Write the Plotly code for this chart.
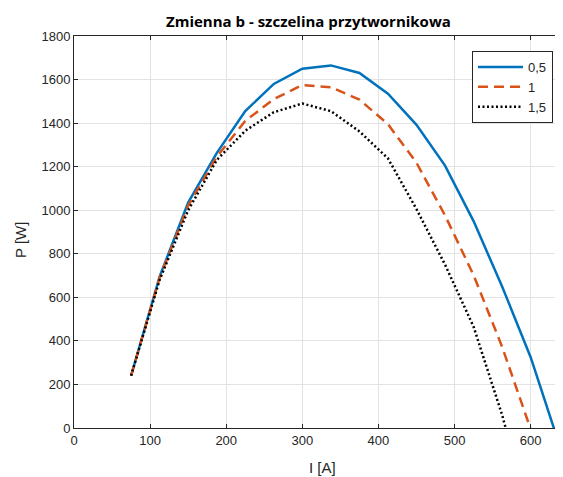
import plotly.graph_objects as go

current_A = [75, 112.5, 150, 187.5, 225, 262.5, 300, 337.5, 375, 412.5, 450, 487.5, 525, 562.5, 600, 637.5]
power_05 = [240, 695, 1035, 1262, 1455, 1580, 1650, 1665, 1630, 1535, 1392, 1205, 950, 650, 325, -75]
power_10 = [240, 690, 1020, 1245, 1410, 1510, 1575, 1565, 1508, 1395, 1218, 976, 702, 373, -5]
power_15 = [240, 680, 1000, 1230, 1365, 1450, 1490, 1455, 1362, 1238, 1005, 750, 465, 60, -420]
series_names = ["0,5", "1", "1,5"]

x_ticks = [0, 100, 200, 300, 400, 500, 600]
y_ticks = [0, 200, 400, 600, 800, 1000, 1200, 1400, 1600, 1800]

# page has an 8px body margin; work in page pixel coordinates
OFF = 8
PAGE_W, PAGE_H = 563, 477
W, H = PAGE_W - OFF, PAGE_H - OFF
PLOT_L, PLOT_R, PLOT_T, PLOT_B = 74, 563, 36, 428  # page pixels
ML, MR, MT, MB = PLOT_L - OFF, PAGE_W - PLOT_R, PLOT_T - OFF, PAGE_H - PLOT_B
PW, PH = PLOT_R - PLOT_L, PLOT_B - PLOT_T

def px_x(p):
    return (p - PLOT_L) / PW

def px_y(p):
    return 1 - (p - PLOT_T) / PH

fig = go.Figure()
fig.add_trace(go.Scatter(x=current_A, y=power_05, mode="lines", name=series_names[0],
                         line=dict(color="#0072BD", width=2.5)))
fig.add_trace(go.Scatter(x=current_A[:len(power_10)], y=power_10, mode="lines", name=series_names[1],
                         line=dict(color="#D95319", width=2.5, dash="10px,6px")))
fig.add_trace(go.Scatter(x=current_A[:len(power_15)], y=power_15, mode="lines", name=series_names[2],
                         line=dict(color="#000000", width=2.5, dash="2px,2.5px")))

axis_common = dict(
    showgrid=True, gridcolor="#e3e3e3", gridwidth=1,
    showline=True, linecolor="#262626", linewidth=1,
    ticks="inside", ticklen=4, tickcolor="#262626",
    tickfont=dict(family="Liberation Sans, Arial, sans-serif", size=13, color="#262626"),
    zeroline=False,
)

fig.update_xaxes(range=[0, 642.5], tickvals=x_ticks, mirror="ticks", **axis_common)
fig.update_yaxes(range=[0, 1800], tickvals=y_ticks, mirror=False, **axis_common)

fig.update_layout(
    width=W, height=H,
    margin=dict(l=ML, r=MR, t=MT, b=MB, pad=0),
    paper_bgcolor="white", plot_bgcolor="white",
    showlegend=True,
    legend=dict(
        x=px_x(472), y=px_y(51), xanchor="left", yanchor="top",
        bgcolor="white", bordercolor="#262626", borderwidth=1,
        font=dict(family="Liberation Sans, Arial, sans-serif", size=13, color="#262626"),
        itemwidth=45, tracegroupgap=0,
    ),
    annotations=[
        dict(text="<b>Zmienna b - szczelina przytwornikowa</b>", x=px_x(308), y=px_y(21),
             xref="paper", yref="paper", xanchor="center", yanchor="middle", showarrow=False,
             font=dict(family="Open Sans, sans-serif", size=15, color="#000000")),
        dict(text="I [A]", x=px_x(322), y=px_y(467), xref="paper", yref="paper",
             xanchor="center", yanchor="middle", showarrow=False,
             font=dict(family="Liberation Sans, Arial, sans-serif", size=15, color="#262626")),
        dict(text="P [W]", x=px_x(20), y=px_y(240), xref="paper", yref="paper", textangle=-90,
             xanchor="center", yanchor="middle", showarrow=False,
             font=dict(family="Liberation Sans, Arial, sans-serif", size=15, color="#262626")),
    ],
)

fig.write_html("out.html")
